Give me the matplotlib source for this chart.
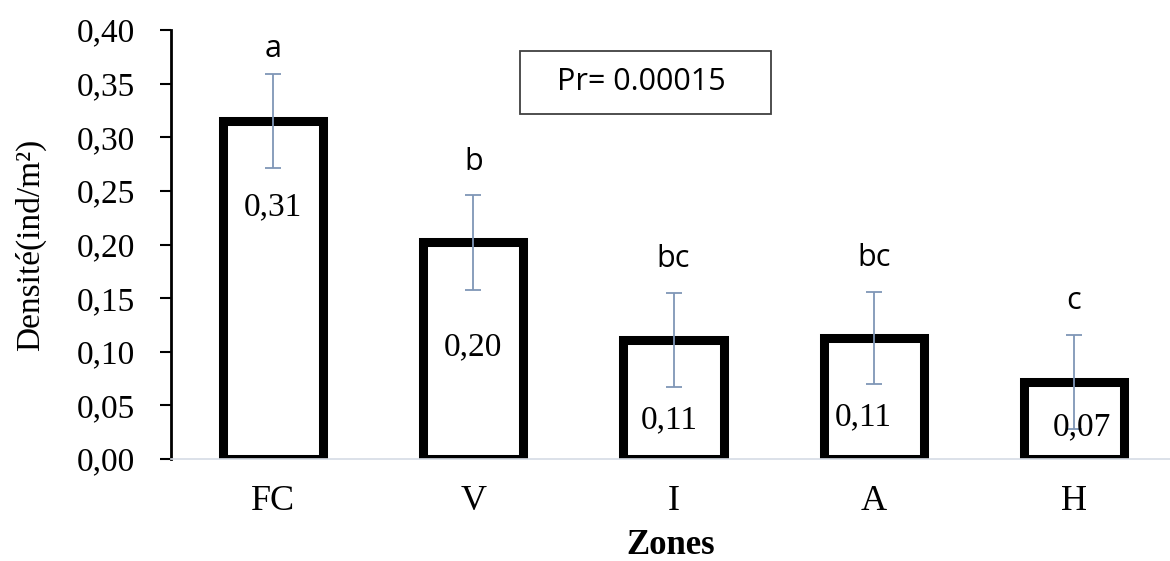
import matplotlib
matplotlib.use("Agg")
import matplotlib.pyplot as plt
from matplotlib.patches import Rectangle
from matplotlib.ticker import FuncFormatter

plt.rcParams['font.family'] = 'Liberation Serif'

zones = ['FC', 'V', 'I', 'A', 'H']
densite = [0.315, 0.202, 0.111, 0.113, 0.072]
erreur = [0.044, 0.044, 0.044, 0.043, 0.044]
valeurs = ['0,31', '0,20', '0,11', '0,11', '0,07']
groupes = ['a', 'b', 'bc', 'bc', 'c']
p_value = '0.00015'

fig = plt.figure(figsize=(11.7, 5.61), dpi=100)
ax = fig.add_axes([171 / 1170, 1 - 459 / 561, 999 / 1170, 429 / 561])

x = range(len(zones))
ax.bar(x, densite, width=0.5, color='white', edgecolor='black', linewidth=6.5, zorder=2)
ax.errorbar(x, densite, yerr=erreur, fmt='none', ecolor='#7f96b6', elinewidth=1.3,
            capsize=6, capthick=1.3, zorder=3)

# valeurs dans les barres
label_y = [0.235, 0.104, 0.036, 0.039, 0.030]
label_dx = [0, 0, -0.02, -0.05, 0.04]
for i, (txt, ly) in enumerate(zip(valeurs, label_y)):
    ax.text(i + label_dx[i], ly, txt, ha='center', va='center', fontsize=24, zorder=4)

# lettres de groupes au-dessus des barres d'erreur
for i, g in enumerate(groupes):
    off = 18 if g == 'a' else 24
    ax.annotate(g, (i, densite[i] + erreur[i]), xytext=(0, off), textcoords='offset points',
                ha='center', va='center', fontsize=22, family='Open Sans')

ax.set_xlim(-0.51, 4.48)
ax.set_ylim(0, 0.40)
ax.set_yticks([i * 0.05 for i in range(9)])
ax.yaxis.set_major_formatter(FuncFormatter(lambda v, p: f'{v:.2f}'.replace('.', ',')))
ax.set_xticks(list(x))
ax.set_xticklabels(zones)

for s in ['top', 'right']:
    ax.spines[s].set_visible(False)
ax.spines['left'].set_linewidth(2)
ax.spines['bottom'].set_color('#d6dce5')
ax.spines['bottom'].set_linewidth(1.2)
ax.tick_params(axis='y', length=8, width=1.5, labelsize=24, pad=18)
ax.tick_params(axis='x', length=0, labelsize=26, pad=19)

ax.set_ylabel('Densité(ind/m²)', fontsize=24)
ax.yaxis.set_label_coords(-0.125, 0.5)
ax.set_xlabel('Zones', fontsize=25, fontweight='bold', labelpad=8)

# encadré de la probabilité
fig.patches.append(Rectangle((520 / 1170, 1 - 114 / 561), 251 / 1170, 63 / 561,
                             transform=fig.transFigure, facecolor='white',
                             edgecolor='#404040', linewidth=1.3))
fig.text(641 / 1170, 1 - 82 / 561, f'Pr= {p_value}', ha='center', va='center',
         fontsize=22, family='Open Sans')

fig.savefig('out.png', dpi=100)
